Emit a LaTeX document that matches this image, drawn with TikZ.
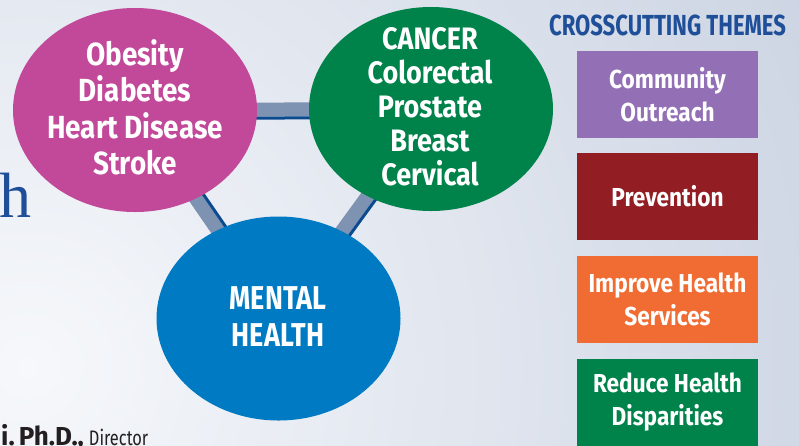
\documentclass[tikz,border=0pt]{standalone}
\usepackage{fontspec}
\setmainfont{Fira Sans}
\newfontfamily\cond[FakeStretch=0.87]{Fira Sans}
\newfontfamily\condm[FakeStretch=0.82]{Fira Sans}
\newfontfamily\condn[FakeStretch=0.78]{Fira Sans}
\newfontfamily\condx[FakeStretch=0.76]{Fira Sans}
\newfontfamily\hserif{Liberation Serif}
\usetikzlibrary{shapes.geometric}
\pgfdeclarelayer{back}
\pgfdeclarelayer{bars}
\pgfsetlayers{back,bars,main}
\definecolor{pinkc}{HTML}{C2489A}
\definecolor{greenc}{HTML}{00834A}
\definecolor{bluec}{HTML}{007AC2}
\definecolor{purplec}{HTML}{9370B5}
\definecolor{redc}{HTML}{921D23}
\definecolor{orangec}{HTML}{F06C32}
\definecolor{titleblue}{HTML}{1F4F98}
\definecolor{barl}{HTML}{7E92B2}
\definecolor{bard}{HTML}{0B4A8E}
\definecolor{bgin}{HTML}{F6F8FB}
\definecolor{bgout}{HTML}{A5B2CC}
\definecolor{inkc}{HTML}{231F20}
\tikzset{
  bubble/.style={ellipse, minimum width=244pt, minimum height=204pt, inner sep=0pt},
  bubtext/.style={text=white, align=center, inner sep=0pt},
  theme/.style={minimum width=181pt, minimum height=87pt, inner sep=0pt, text=white, align=center,
    font=\cond\bfseries\fontsize{26}{33}\selectfont},
  barlight/.style={line width=14pt, draw=barl},
  bardark/.style={line width=3pt, draw=bard},
}
\begin{document}
\begin{tikzpicture}[x=1pt,y=-1pt]
\useasboundingbox (0,0) rectangle (799,445);
\begin{pgfonlayer}{back}
  \begin{scope}
    \clip (0,0) rectangle (799,445);
    \shade[inner color=bgin, outer color=bgout] (28,367) circle (1700);
  \end{scope}
\end{pgfonlayer}

% left fragments
\node[anchor=base west, inner sep=0pt, text=titleblue, font=\hserif\fontsize{64}{64}\selectfont] (hh) at (-1,217) {h};
\node[anchor=base west, inner sep=0pt, text=inkc] (dir) at (1,445.5)
  {\bfseries\fontsize{26}{26}\selectfont i.\hspace{4pt}Ph.D.,\hspace{5pt}\condn\mdseries\fontsize{21}{21}\selectfont Director};

% bubbles
\node[bubble, fill=pinkc] (ob) at (135,110) {};
\node[bubble, fill=greenc] (ca) at (431,109) {};
\node[bubble, fill=bluec] (mh) at (278.5,318.5) {};

\node[bubtext, font=\cond\bfseries\fontsize{32}{36.5}\selectfont] (obt) at (135,107.5)
  {Obesity\\Diabetes\\Heart Disease\\Stroke};
\node[bubtext, font=\cond\bfseries\fontsize{31}{34}\selectfont] (cat) at (430,107)
  {CANCER\\Colorectal\\Prostate\\Breast\\Cervical};
\node[bubtext, font=\condm\bfseries\fontsize{33}{37}\selectfont] (mht) at (278,317)
  {MENTAL\\HEALTH};

% connectors
\begin{pgfonlayer}{bars}
  \draw[barlight] (ob.center) -- (ca.center);
  \draw[bardark] ([shift={(0,8.5)}]ob.center) -- ([shift={(0,8.5)}]ca.center);
  \draw[barlight] (ob.center) -- (mh.center);
  \draw[bardark] ([shift={(7,-4.8)}]ob.center) -- ([shift={(7,-4.8)}]mh.center);
  \draw[barlight] (ca.center) -- (mh.center);
  \draw[bardark] ([shift={(6.9,5)}]ca.center) -- ([shift={(6.9,5)}]mh.center);
\end{pgfonlayer}

% crosscutting themes
\node[anchor=base, inner sep=0pt, text=titleblue, font=\condx\bfseries\fontsize{29}{29}\selectfont] (title) at (667.5,35) {CROSSCUTTING THEMES};
\node[theme, fill=purplec] (co) at (667.5,94.5) {Community\\Outreach};
\node[theme, fill=redc] (pr) at (667.5,196) {Prevention};
\node[theme, fill=orangec] (ih) at (667.5,299.5) {Improve Health\\Services};
\node[theme, fill=greenc] (rh) at (667.5,402.5) {Reduce Health\\Disparities};
\end{tikzpicture}
\end{document}
